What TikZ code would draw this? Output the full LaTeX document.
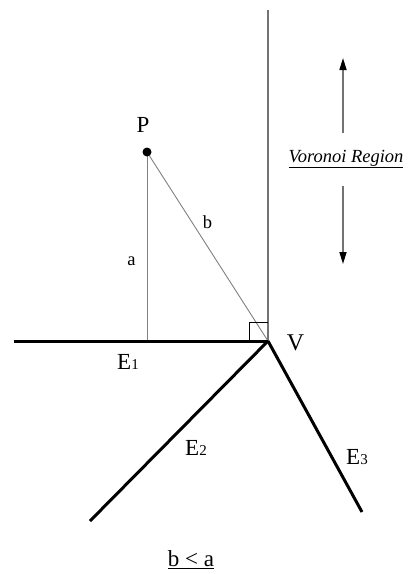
\documentclass[tikz,border=0pt]{standalone}
\usepackage{fontspec}
\setmainfont{Liberation Serif}
\usetikzlibrary{arrows.meta}
\tikzset{
  edgeline/.style={line width=3pt, black},
  thinline/.style={line width=0.9pt, color=black!50},
  axisline/.style={line width=1.4pt, color=black!55},
  regarrow/.style={line width=1.6pt, color=black!55, -{Triangle[length=12pt,width=7pt,color=black]}},
  biglabel/.style={font=\fontsize{23}{25}\selectfont, inner sep=0pt},
  smalllabel/.style={font=\fontsize{18.5}{20}\selectfont, inner sep=0pt},
}
\newcommand{\sbdig}[1]{{\fontsize{15}{15}\selectfont #1}}
\begin{document}
\begin{tikzpicture}[x=1pt,y=-1pt]
\useasboundingbox (0,0) rectangle (409,574);
% key points
\coordinate (V) at (268,341);
\coordinate (T) at (268,10);
\coordinate (F) at (147,341);
\coordinate (L1) at (14,341);
\coordinate (L2) at (90,521);
\coordinate (L3) at (362,512);
\coordinate (S1) at (249,341);
\coordinate (S2) at (249,322);
\coordinate (S3) at (268,322);
\coordinate (au1) at (343,133);
\coordinate (au2) at (343,58);
\coordinate (ad1) at (343,186);
\coordinate (ad2) at (343,264);
% thin construction lines
\draw[axisline] (V) -- (T);
\draw[thinline] (147,152) coordinate (Pc) -- (F);
\draw[thinline] (Pc) -- (V);
\draw[line width=0.8pt] (S1) -- (S2) -- (S3);
% edges
\draw[edgeline] (L1) -- (V);
\draw[edgeline] (V) -- (L2);
\draw[edgeline] (V) -- (L3);
% point P
\node[circle, fill=black, inner sep=0pt, minimum size=9pt] (P) at (Pc) {};
% arrows
\draw[regarrow] (au1) -- (au2);
\draw[regarrow] (ad1) -- (ad2);
% labels
\node[biglabel] (lP) at (143,125) {P};
\node[smalllabel] (la) at (131.5,261) {a};
\node[smalllabel] (lb) at (207.5,222) {b};
\node[biglabel, font=\fontsize{24}{26}\selectfont] (lV) at (295.5,342.5) {V};
\node[biglabel] (lE1) at (128,362) {E\sbdig{1}};
\node[biglabel] (lE2) at (196,448) {E\sbdig{2}};
\node[biglabel] (lE3) at (357,457) {E\sbdig{3}};
\node[inner sep=0pt, font=\fontsize{18.5}{20}\selectfont\itshape] (lvr) at (346,159) {\underline{Voronoi Region}};
\node[biglabel] (lba) at (191,560) {\underline{b < a}};
\end{tikzpicture}
\end{document}
